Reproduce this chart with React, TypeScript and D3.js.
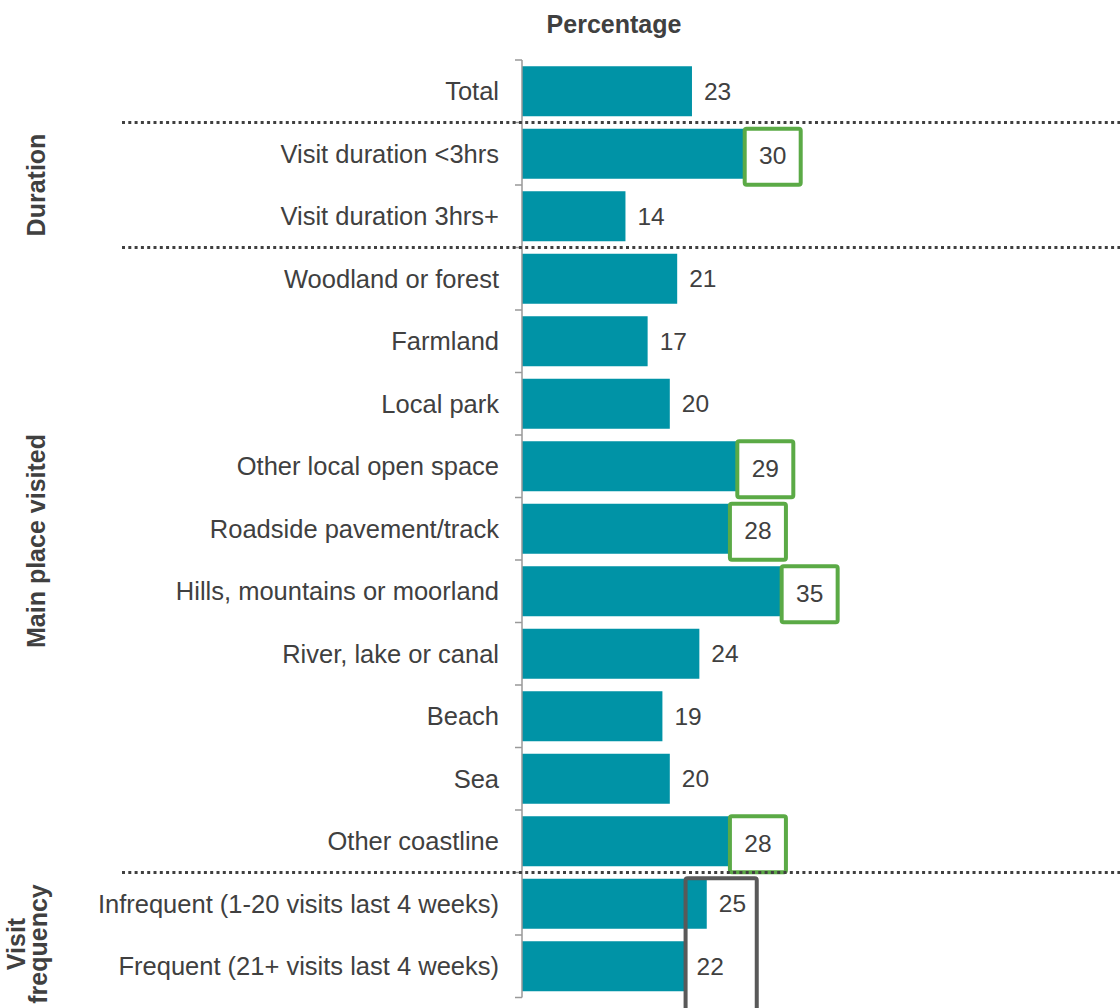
import React from "react";
import * as d3 from "d3";

const categories = [
  "Total",
  "Visit duration <3hrs",
  "Visit duration 3hrs+",
  "Woodland or forest",
  "Farmland",
  "Local park",
  "Other local open space",
  "Roadside pavement/track",
  "Hills, mountains or moorland",
  "River, lake or canal",
  "Beach",
  "Sea",
  "Other coastline",
  "Infrequent (1-20 visits last 4 weeks)",
  "Frequent (21+ visits last 4 weeks)",
];
const values = [23, 30, 14, 21, 17, 20, 29, 28, 35, 24, 19, 20, 28, 25, 22];
const highlighted = [
  "Visit duration <3hrs",
  "Other local open space",
  "Roadside pavement/track",
  "Hills, mountains or moorland",
  "Other coastline",
];
const compared = [
  "Infrequent (1-20 visits last 4 weeks)",
  "Frequent (21+ visits last 4 weeks)",
];
const groups = [
  { lines: ["Duration"], from: "Visit duration <3hrs", to: "Visit duration 3hrs+" },
  { lines: ["Main place visited"], from: "Woodland or forest", to: "Other coastline" },
  { lines: ["Visit", "frequency"], from: "Infrequent (1-20 visits last 4 weeks)", to: "Frequent (21+ visits last 4 weeks)" },
];
const separatorsAfter = ["Total", "Visit duration 3hrs+", "Other coastline"];

const W = 1120;
const H = 1008;
const axisX = 522;
const TEXT = "#404040";
const BAR = "#0093A6";
const GREEN = "#5BAA46";
const GREY = "#595959";
const FONT = "'Liberation Sans', Arial, sans-serif";

export default function App() {
  const y = d3.scaleBand<string>().domain(categories).range([60, 997.5]).paddingInner(0.2).paddingOuter(0.1);
  const step = y.step();
  const x = d3.scaleLinear().domain([0, 10]).range([axisX, axisX + 73.9]);
  const bandStart = (c: string) => (y(c) as number) - step * 0.1;
  const center = (c: string) => (y(c) as number) + y.bandwidth() / 2;

  const cmpVals = compared.map((c) => values[categories.indexOf(c)]);
  const cmpLeft = x(d3.min(cmpVals) as number) + 1;
  const cmpRight = x(d3.max(cmpVals) as number) + 50;
  const cmpTop = (y(compared[0]) as number) - 0.5;

  const groupCenter: Record<string, number> = { Duration: 185, "Main place visited": 541 };

  return (
    <svg width={W} height={H} style={{ position: "absolute", left: 0, top: 0 }} fontFamily={FONT}>
      <rect width={W} height={H} fill="#fff" />
      <text x={614} y={33} textAnchor="middle" fontWeight="bold" fontSize={25} fill={TEXT}>
        Percentage
      </text>
      {/* bars */}
      {categories.map((c, i) => (
        <rect key={c} x={x(0)} y={y(c)} width={x(values[i]) - x(0)} height={y.bandwidth()} fill={BAR} />
      ))}
      {/* axis */}
      <line x1={axisX} x2={axisX} y1={60} y2={997.5} stroke="#999" strokeWidth={1.5} />
      {d3.range(categories.length + 1).map((i) => (
        <line key={i} x1={axisX - 7} x2={axisX} y1={60 + i * step} y2={60 + i * step} stroke="#999" strokeWidth={1.5} />
      ))}
      {/* highlighted boxes */}
      {categories.map((c, i) => {
        if (!highlighted.includes(c)) return null;
        const bx = x(values[i]);
        const cy = center(c) + 3;
        return (
          <rect key={c} x={bx + 1} y={cy - 28} width={56} height={56} rx={2} fill="#fff" stroke={GREEN} strokeWidth={4} />
        );
      })}
      {/* separators */}
      {separatorsAfter.map((c) => {
        const yy = bandStart(c) + step;
        return (
          <line key={c} x1={122} x2={W} y1={yy} y2={yy} stroke="#404040" strokeWidth={3} strokeDasharray="3 3.3" />
        );
      })}
      <rect x={cmpLeft} y={cmpTop} width={cmpRight - cmpLeft} height={200} rx={2} fill="none" stroke={GREY} strokeWidth={4} />
      {/* category labels */}
      {categories.map((c) => (
        <text key={c} x={499} y={center(c)} dy="0.35em" textAnchor="end" fontSize={25.5} fill={TEXT}>
          {c}
        </text>
      ))}
      {/* value labels */}
      {categories.map((c, i) => {
        const hl = highlighted.includes(c);
        const vx = hl ? x(values[i]) + 29 : x(values[i]) + 12;
        return (
          <text key={c} x={vx} y={center(c) + (hl ? 2 : 0)} dy="0.35em" textAnchor={hl ? "middle" : "start"} fontSize={24.5} fill={TEXT}>
            {values[i]}
          </text>
        );
      })}
      {/* group labels */}
      {groups.map((g) => {
        const cy = groupCenter[g.lines[0]] ?? (center(g.from) + center(g.to)) / 2 + 9;
        if (g.lines.length === 1) {
          return (
            <text key={g.lines[0]} transform={`translate(45,${cy}) rotate(-90)`} textAnchor="middle" fontWeight="bold" fontSize={25} fill={TEXT}>
              {g.lines[0]}
            </text>
          );
        }
        return (
          <g key={g.lines.join(" ")} transform={`translate(25,${cy}) rotate(-90)`}>
            {g.lines.map((l, k) => (
              <text key={l} x={0} y={k * 22} textAnchor="middle" fontWeight="bold" fontSize={25} fill={TEXT}>
                {l}
              </text>
            ))}
          </g>
        );
      })}
    </svg>
  );
}
